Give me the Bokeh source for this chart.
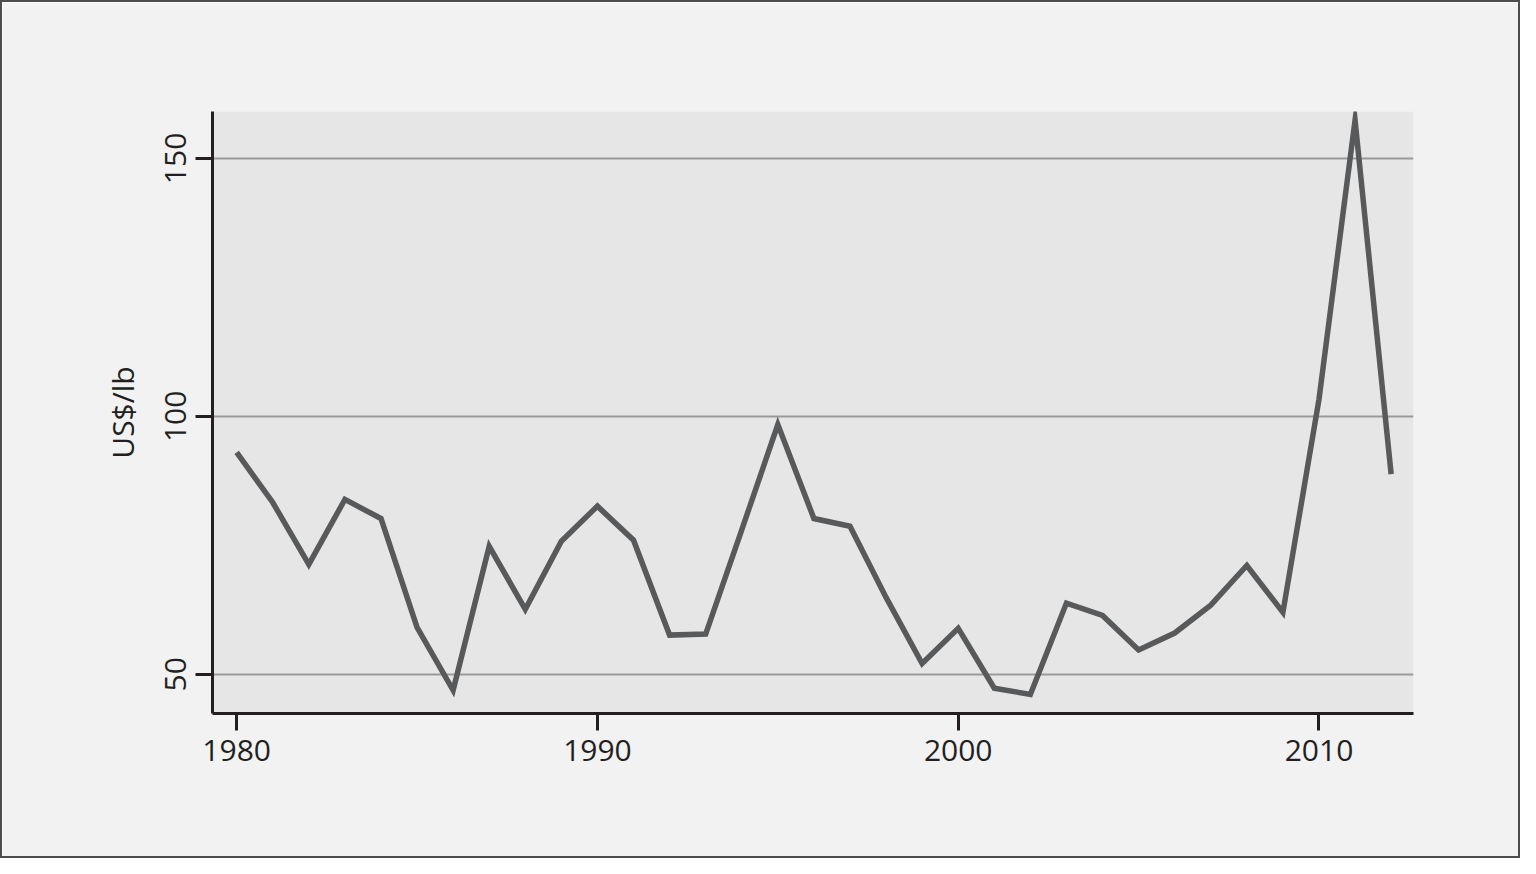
from bokeh.plotting import figure
from bokeh.models import FixedTicker, Range1d
from bokeh.embed import file_html
from bokeh.resources import INLINE

years = list(range(1980, 2013))
price = [93.0, 83.3, 71.3, 83.9, 80.2, 59.1, 46.9, 74.8, 62.6, 75.8,
         82.6, 76.0, 57.6, 57.8, 78.0, 98.4, 80.2, 78.7, 64.9, 52.1,
         58.9, 47.3, 46.1, 63.8, 61.4, 54.7, 58.0, 63.4, 71.1, 62.0,
         103.3, 157.4, 88.8]
x_ticks = [1980, 1990, 2000, 2010]
y_ticks = [50, 100, 150]
y_label = "US$/lb"

FONT = "Open Sans"

p = figure(frame_width=1201, frame_height=602,
           min_border_left=210, min_border_top=109,
           min_border_right=105, min_border_bottom=143,
           x_range=Range1d(1979.33, 2012.62), y_range=Range1d(42.4, 159.1),
           output_backend="svg", toolbar_location=None,
           background_fill_color="#e6e6e6", border_fill_color="#f2f2f2",
           styles={"border": "2px solid #4d4d4d"})
p.outline_line_color = None

p.line(years, price, line_color="#58595b", line_width=5.5, line_join="miter")

p.xgrid.visible = False
p.ygrid.ticker = FixedTicker(ticks=y_ticks)
p.ygrid.grid_line_color = "#999999"
p.ygrid.grid_line_width = 2

for ax in (p.xaxis[0], p.yaxis[0]):
    ax.axis_line_color = "#231f20"
    ax.axis_line_width = 3
    ax.major_tick_line_color = "#231f20"
    ax.major_tick_line_width = 3
    ax.major_tick_in = 0
    ax.major_tick_out = 17
    ax.minor_tick_line_color = None
    ax.major_label_text_font = FONT
    ax.major_label_text_font_size = "30px"
    ax.major_label_text_color = "#231f20"
    ax.major_label_standoff = 9

p.xaxis.ticker = FixedTicker(ticks=x_ticks)
p.yaxis.ticker = FixedTicker(ticks=y_ticks)
p.yaxis.major_label_orientation = "vertical"
p.yaxis.axis_label = y_label
p.yaxis.axis_label_text_font = FONT
p.yaxis.axis_label_text_font_style = "normal"
p.yaxis.axis_label_text_font_size = "30px"
p.yaxis.axis_label_text_color = "#231f20"
p.yaxis.axis_label_standoff = 20

open("out.html", "w").write(file_html(p, INLINE))
